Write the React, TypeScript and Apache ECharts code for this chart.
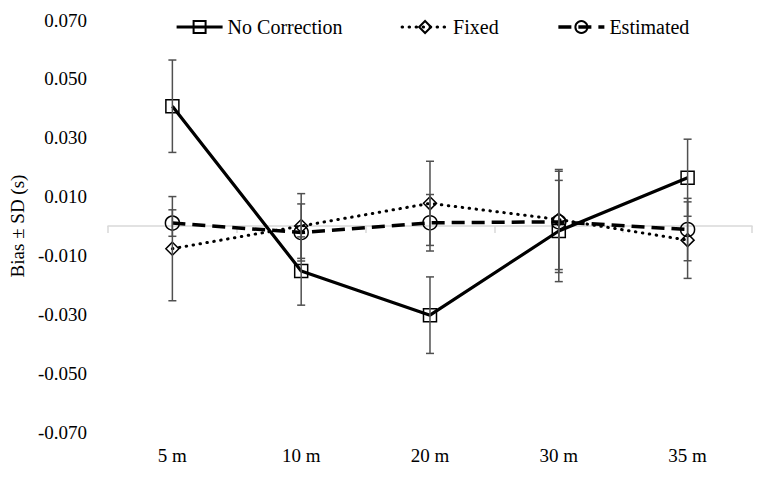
import React, { useEffect, useRef } from "react";
import * as echarts from "echarts";

const categories = ["5 m", "10 m", "20 m", "30 m", "35 m"];
const noCorrection = [0.0407, -0.0153, -0.0303, -0.0017, 0.0164];
const noCorrectionSD = [0.0157, 0.0116, 0.013, 0.0172, 0.0131];
const fixed = [-0.0077, 0.0, 0.0077, 0.0022, -0.0048];
const fixedSD = [0.0177, 0.011, 0.0143, 0.017, 0.013];
const estimated = [0.001, -0.0022, 0.0011, 0.0014, -0.0012];
const estimatedSD = [0.0045, 0.0097, 0.0096, 0.0172, 0.0106];
const seriesNames = ["No Correction", "Fixed", "Estimated"];

const FONT = "Liberation Serif";

function errData(vals: number[], sds: number[]) {
  return vals.map((v, i) => [i, v - sds[i], v + sds[i]]);
}

function errSeries(name: string, vals: number[], sds: number[]) {
  return {
    type: "custom",
    name,
    xAxisIndex: 0,
    z: 5,
    silent: true,
    data: errData(vals, sds),
    encode: { x: 0, y: [1, 2] },
    renderItem: (params: any, api: any) => {
      const x = api.value(0);
      const lo = api.coord([x, api.value(1)]);
      const hi = api.coord([x, api.value(2)]);
      const w = 4;
      const style = { stroke: "#505050", lineWidth: 1.5 };
      return {
        type: "group",
        children: [
          { type: "line", shape: { x1: lo[0], y1: lo[1], x2: hi[0], y2: hi[1] }, style },
          { type: "line", shape: { x1: lo[0] - w, y1: lo[1], x2: lo[0] + w, y2: lo[1] }, style },
          { type: "line", shape: { x1: hi[0] - w, y1: hi[1], x2: hi[0] + w, y2: hi[1] }, style },
        ],
      };
    },
  };
}

const lineStyles: any[] = [
  { color: "#000", width: 3.2, type: "solid" },
  { color: "#000", width: 3, type: [0.5, 6.5], cap: "round" },
  { color: "#000", width: 3.5, type: [13, 7] },
];

export default function App() {
  const ref = useRef<HTMLDivElement>(null);
  useEffect(() => {
    document.body.style.margin = "0";
    if (!ref.current) return;
    const chart = echarts.init(ref.current, undefined, { renderer: "svg" });
    chart.setOption({
      animation: false,
      backgroundColor: "#ffffff",
      textStyle: { fontFamily: FONT },
      grid: { left: 101, right: 13, top: 20, bottom: 45 },
      legend: {
        data: seriesNames.map((n, i) => ({
          name: n,
          lineStyle: { width: lineStyles[i].width, type: lineStyles[i].type, cap: lineStyles[i].cap || "butt", color: "#000" },
        })),
        top: 12,
        left: 170,
        itemWidth: 46,
        itemHeight: 15,
        itemGap: 58,
        textStyle: { fontFamily: FONT, color: "#000", fontSize: 20 },
      },
      xAxis: [
        {
          type: "category",
          data: categories,
          position: "bottom",
          boundaryGap: true,
          axisLine: { show: false, onZero: false },
          axisTick: { show: false },
          axisLabel: { fontFamily: FONT, color: "#000", fontSize: 19, margin: 14 },
          splitLine: { show: false },
        },
        {
          type: "category",
          data: categories,
          position: "bottom",
          boundaryGap: true,
          axisLine: { show: true, onZero: true, lineStyle: { color: "#d9d9d9", width: 1.5 } },
          axisTick: { show: true, length: 7, lineStyle: { color: "#d9d9d9", width: 1.5 } },
          axisLabel: { show: false },
          splitLine: { show: false },
        },
      ],
      yAxis: {
        type: "value",
        min: -0.07,
        max: 0.07,
        interval: 0.01,
        name: "Bias ± SD (s)",
        nameLocation: "middle",
        nameGap: 74,
        nameTextStyle: { fontFamily: FONT, color: "#000", fontSize: 19 },
        axisLine: { show: false },
        axisTick: { show: false },
        splitLine: { show: false },
        axisLabel: {
          fontFamily: FONT,
          color: "#000",
          fontSize: 19,
          margin: 21,
          formatter: (v: number) => {
            const k = Math.round(v * 1000);
            return Math.abs(k) % 20 === 10 ? v.toFixed(3) : "";
          },
        },
      },
      series: [
        {
          name: "No Correction",
          type: "line",
          xAxisIndex: 0,
          data: noCorrection,
          symbol: "rect",
          symbolSize: 13,
          lineStyle: lineStyles[0],
          itemStyle: { color: "rgba(255,255,255,0)", borderColor: "#000", borderWidth: 1.5 },
          z: 3,
        },
        {
          name: "Fixed",
          type: "line",
          xAxisIndex: 0,
          data: fixed,
          symbol: "diamond",
          symbolSize: 13,
          lineStyle: lineStyles[1],
          itemStyle: { color: "rgba(255,255,255,0)", borderColor: "#000", borderWidth: 1.5 },
          z: 3,
        },
        {
          name: "Estimated",
          type: "line",
          xAxisIndex: 0,
          data: estimated,
          symbol: "circle",
          symbolSize: 14,
          lineStyle: lineStyles[2],
          itemStyle: { color: "rgba(255,255,255,0)", borderColor: "#000", borderWidth: 1.5 },
          z: 3,
        },
        errSeries("err-nc", noCorrection, noCorrectionSD),
        errSeries("err-fixed", fixed, fixedSD),
        errSeries("err-est", estimated, estimatedSD),
      ],
    });
    return () => chart.dispose();
  }, []);
  return <div ref={ref} style={{ width: 765, height: 477 }} />;
}
